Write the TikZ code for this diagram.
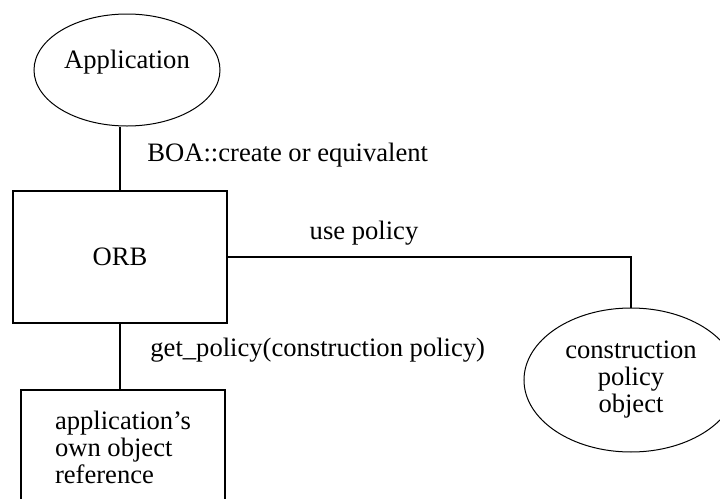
\documentclass[tikz,border=0pt]{standalone}
\usepackage{fontspec}
\setmainfont{Liberation Serif}
\usetikzlibrary{shapes.geometric}

\begin{document}
\begin{tikzpicture}[
  x=0.5pt, y=-0.5pt,
  font=\fontsize{13.3}{13.5}\selectfont,
  every node/.style={align=center},
  blob/.style={draw, ellipse, line width=0.5pt, inner sep=0pt},
  box/.style={draw, rectangle, line width=1pt, inner sep=0pt},
  wire/.style={line width=1pt},
  lbl/.style={anchor=west, inner sep=0pt},
]
  \useasboundingbox (0,0) rectangle (720,499);
  \clip (0,0) rectangle (720,499);

  \node[blob, minimum width=93pt, minimum height=56pt, text depth=11pt] (app) at (127,70) {Application};
  \node[box, minimum width=107pt, minimum height=66pt] (orb) at (120,257) {ORB};
  \node[box, minimum width=102pt, minimum height=57pt, align=left] (own) at (123,447)
       {application's\\own object\\reference};
  \node[blob, minimum width=107pt, minimum height=72pt] (cpo) at (631,380)
       {construction\\policy\\object};

  \draw[wire] (orb.north) -- (orb.north |- app.south);
  \draw[wire] (orb.east) -| (cpo.north);
  \draw[wire] (orb.south) -- (orb.south |- own.north);

  % labels on the links
  \node[lbl] (boa) at (147,155) {BOA::create or equivalent};
  \node[inner sep=0pt] (use) at (364,233) {use policy};
  \node[lbl] (get) at (150,350) {get\_policy(construction policy)};
\end{tikzpicture}
\end{document}
